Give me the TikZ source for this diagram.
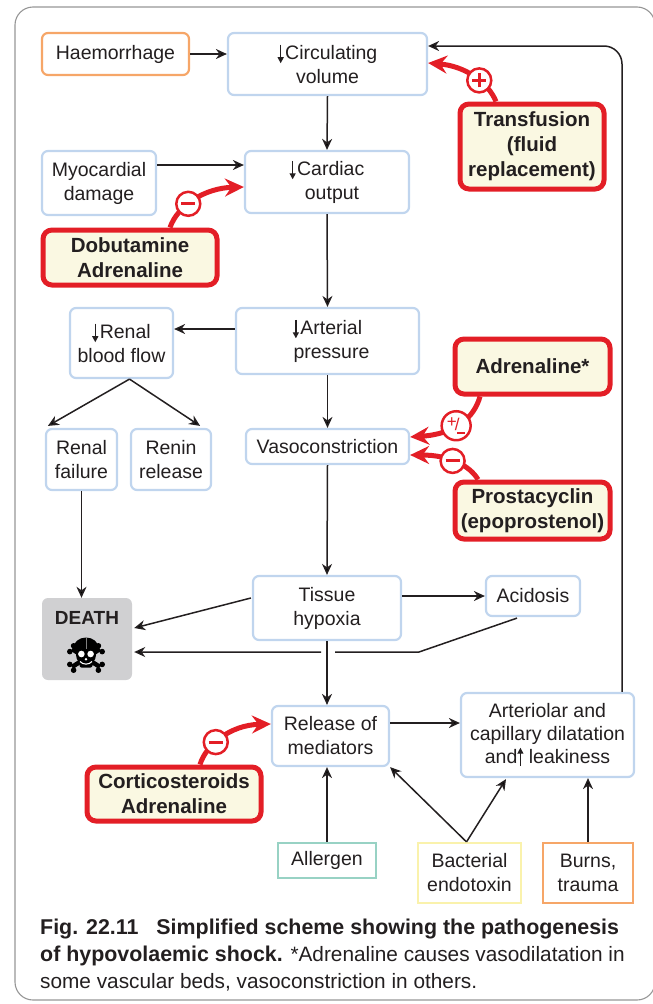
\documentclass[tikz,border=0pt]{standalone}
\usepackage{fontspec}
\setmainfont{Liberation Sans}
\usetikzlibrary{arrows.meta,calc}
\definecolor{boxblue}{RGB}{192,213,238}
\definecolor{orangeb}{RGB}{246,166,104}
\definecolor{tealb}{RGB}{152,210,196}
\definecolor{yellowb}{RGB}{250,242,172}
\definecolor{redb}{RGB}{227,30,38}
\definecolor{cream}{RGB}{250,248,226}
\definecolor{deathgray}{RGB}{208,208,210}
\definecolor{txt}{RGB}{35,31,32}
\definecolor{framegray}{RGB}{150,150,150}
\newcommand{\dn}{\tikz[baseline=0pt,x=1pt,y=1pt]\draw[txt,line width=1.3pt,-{Triangle[length=6pt,width=6pt]}] (0,15) -- (0,-3.5);\kern1.5pt}
\newcommand{\upar}{\tikz[baseline=0pt,x=1pt,y=1pt]\draw[txt,line width=1.3pt,-{Triangle[length=6pt,width=6pt]}] (0,-3) -- (0,15.5);}
\begin{document}
\begin{tikzpicture}[x=1pt,y=-1pt,
  base/.style={align=center, inner sep=0, text=txt, font=\fontsize{19.5}{24}\selectfont},
  bluebox/.style={base, draw=boxblue, line width=2.2, rounded corners=6, fill=white},
  orangebox/.style={base, draw=orangeb, line width=2.2, rounded corners=6, fill=white},
  srcbox/.style={base, line width=2.2, fill=white},
  drugbox/.style={align=center, inner sep=0, text=txt, draw=redb, line width=5, rounded corners=9, fill=cream, font=\fontsize{20.5}{25}\selectfont\bfseries},
  arr/.style={draw=txt, line width=1.5, -{Stealth[length=11pt,width=10pt,inset=3.5pt]}},
  redarr/.style={draw=redb, line width=5, -{Stealth[length=19pt,width=18pt,inset=6.5pt]}},
  signc/.style={circle, draw=redb, line width=2.5, fill=white, minimum size=24, inner sep=0, text=redb},
]
\useasboundingbox (0,0) rectangle (653,1004);
\draw[framegray, line width=1.1, rounded corners=18] (15,7) rectangle (655,1000);

% nodes
\node[orangebox, minimum width=147, minimum height=42] (hm) at (115.5,54) {Haemorrhage};
\node[bluebox, minimum width=199, minimum height=62] (cv) at (327.5,64) {\dn Circulating\\volume};
\node[drugbox, minimum width=144, minimum height=85] (tf) at (532,146.5) {Transfusion\\(fluid\\replacement)};
\node[bluebox, minimum width=114, minimum height=64] (md) at (99,183) {Myocardial\\damage};
\node[bluebox, minimum width=164, minimum height=62] (co) at (327,182) {\dn Cardiac\\\hspace{10pt}output};
\node[drugbox, minimum width=174, minimum height=55] (db) at (130,257.5) {Dobutamine\\Adrenaline};
\node[bluebox, minimum width=103, minimum height=70] (rb) at (121.5,343) {\dn Renal\\blood flow};
\node[bluebox, minimum width=183, minimum height=66] (ap) at (327.5,341) {\dn Arterial\\\hspace{8pt}pressure};
\node[drugbox, minimum width=155, minimum height=55] (ad) at (532.5,366.5) {Adrenaline*};
\node[bluebox, minimum width=71, minimum height=61] (rf) at (81.5,459.5) {Renal\\failure};
\node[bluebox, minimum width=80, minimum height=61] (rr) at (171,459.5) {Renin\\release};
\node[bluebox, minimum width=163, minimum height=35] (vc) at (327.5,446.5) {Vasoconstriction};
\node[drugbox, minimum width=155, minimum height=57] (pc) at (532.5,510.5) {Prostacyclin\\(epoprostenol)};
\node[bluebox, minimum width=148, minimum height=64] (th) at (327,608) {Tissue\\hypoxia};
\node[bluebox, minimum width=94, minimum height=40] (ac) at (533,596) {Acidosis};
\node[fill=deathgray, rounded corners=6, minimum width=90, minimum height=82, inner sep=0] (death) at (87,639) {};
\node[inner sep=0, text=txt, font=\fontsize{19}{22}\selectfont\bfseries] (dtxt) at (87,618) {DEATH};
\node[bluebox, minimum width=117, minimum height=60] (rm) at (330.5,736) {Release of\\mediators};
\node[bluebox, minimum width=173, minimum height=84, font=\fontsize{19.5}{23}\selectfont] (ar) at (547.5,735) {Arteriolar and\\capillary dilatation\\and\upar\ leakiness};
\node[drugbox, minimum width=174, minimum height=54] (cs) at (174,794) {Corticosteroids\\Adrenaline};
\node[srcbox, draw=tealb, minimum width=98, minimum height=35] (al) at (327,860.5) {Allergen};
\node[srcbox, draw=yellowb, minimum width=103, minimum height=60] (be) at (469.5,873) {Bacterial\\endotoxin};
\node[srcbox, draw=orangeb, minimum width=90, minimum height=60] (bt) at (588,873) {Burns,\\trauma};

% skull and crossbones
\begin{scope}[shift={(86,655)}]
  \foreach \s in {1,-1} {
    \draw[black, line width=4.5] (-14*\s,-6) -- (14*\s,12);
    \fill[black] (-14*\s,-6) ++(-2.2*\s,2.6) circle (2.8) (-14*\s,-6) ++(1.6*\s,-3.2) circle (2.8);
    \fill[black] (14*\s,12) ++(2.2*\s,-2.6) circle (2.8) (14*\s,12) ++(-1.6*\s,3.2) circle (2.8);
  }
  \fill[black] (0,-7) ellipse (12.5 and 10.5);
  \fill[black] (0,0) circle (10);
  \fill[black, rounded corners=2] (-6.5,3) rectangle (6.5,12.5);
  \draw[gray, line width=0.5] (0,-17) -- (0,-6);
  \fill[white] (-4.6,-1) circle (3.3) (4.6,-1) circle (3.3);
  \fill[white] (0,4.2) circle (1.3);
  \draw[white, line width=1.1] (-6,6.5) .. controls (-3,10) and (3,10) .. (6,6.5);
\end{scope}

% black connectors
\draw[arr] (hm.east) -- (hm.east -| cv.west);
\draw[arr] (cv.south) -- (co.north);
\draw[arr] (md.east |- 0,165) -- (co.west |- 0,165);
\draw[arr] (co.south) -- (ap.north);
\draw[arr] (ap.west |- 0,329) -- (rb.east |- 0,329);
\draw[arr] ($(rb.south)+(8,0)$) -- ($(rf.north west)+(3,-2)$);
\draw[arr] ($(rb.south)+(8,0)$) -- ($(rr.north east)+(-12,-2)$);
\draw[arr] (ap.south) -- (vc.north);
\draw[arr] (rf.south) -- (rf.south |- death.north);
\draw[arr] (vc.south) -- (th.north);
\draw[arr] (th.east |- ac.west) -- (ac.west);
\draw[arr] ($(th.west)+(-1,-10)$) -- ($(death.east)+(2,-11)$);
\coordinate (k1) at (419,652);
\coordinate (g1) at (335,652);
\coordinate (g2) at (321,652);
\draw[arr] ($(ac.south)+(-16,1)$) -- (k1) -- (g1) (g2) -- ($(death.east)+(2,13)$);
\draw[arr] (th.south) -- (th.south |- rm.north);
\draw[arr] ($(rm.east)+(0,-13)$) -- (ar.west |- 0,723);
\draw[arr] (al.north) -- (al.north |- rm.south);
\draw[arr] ($(be.north)+(-3,0)$) -- (rm.south east);
\draw[arr] ($(be.north)+(-3,0)$) -- ($(ar.south)+(-41.5,1)$);
\draw[arr] (bt.north) -- (bt.north |- ar.south);
\draw[arr, rounded corners=18] (ar.north -| 622,0) |- (cv.east |- 0,46);

% red drug connectors
\draw[redarr] ($(tf.north)+(-36,0)$) .. controls (488,82) and (465,66) .. (cv.east |- 0,63)
  node[signc, pos=0.4] (s1) {\makebox[0pt]{\rule[-1.5pt]{14pt}{3pt}}\makebox[0pt]{\rule[-7pt]{3pt}{14pt}}};
\draw[redarr] ($(db.north)+(40,0)$) .. controls (178,205) and (205,188) .. (co.west |- 0,187)
  node[signc, pos=0.4] (s2) {\rule[-1.5pt]{14pt}{3pt}};
\draw[redarr] ($(cs.north)+(26,0)$) .. controls (206,745) and (230,725) .. (rm.west |- 0,724)
  node[signc, pos=0.4] (s3) {\rule[-1.5pt]{14pt}{3pt}};
\draw[redarr] ($(ad.south)+(-52.5,0)$) .. controls (474,418) and (455,434) .. (vc.east |- 0,437)
  node[signc, minimum size=29, pos=0.55, font=\fontsize{17}{17}\selectfont] (s4) {\raisebox{3pt}{+}\kern-2pt/\kern-2pt\raisebox{-3pt}{\rule{8pt}{1.8pt}}};
\draw[redarr] ($(pc.north)+(-54.5,0)$) .. controls (470,466) and (450,455) .. (vc.east |- 0,455)
  node[signc, pos=0.55] (s5) {\rule[-1.5pt]{14pt}{3pt}};

% caption
\node[anchor=north west, align=left, inner sep=0, text=txt, font=\fontsize{20.8}{27}\selectfont] (cap) at (40,919)
  {{\fontsize{21.4}{27}\selectfont\bfseries Fig. 22.11\hspace{12pt} Simplified scheme showing the pathogenesis}\\
   {\fontsize{21.4}{27}\selectfont\bfseries of hypovolaemic shock.} *Adrenaline causes vasodilatation in\\
   some vascular beds, vasoconstriction in others.};
\end{tikzpicture}
\end{document}
